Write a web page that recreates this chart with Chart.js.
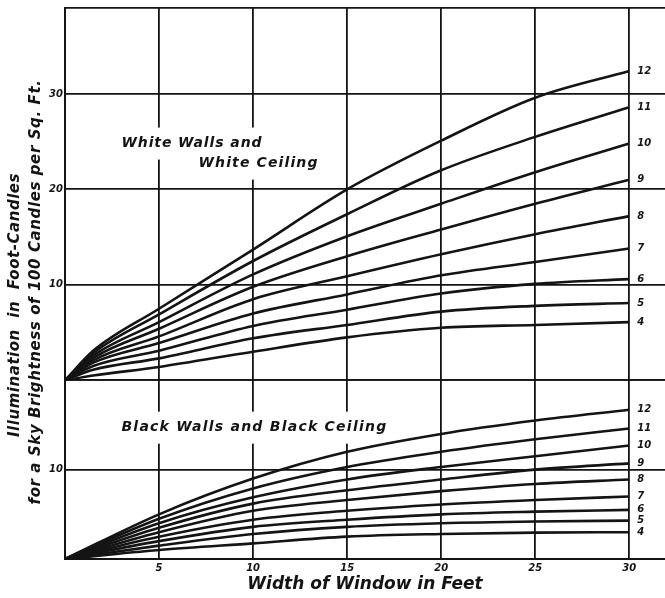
<!DOCTYPE html>
<html>
<head>
<meta charset="utf-8">
<script src="https://cdn.jsdelivr.net/npm/chart.js@4.4.0/dist/chart.umd.min.js"></script>
<style>
  html, body { margin: 0; padding: 0; background: #fff; }
  #grafico { display: block; }
</style>
</head>
<body>
<canvas id="grafico" width="665" height="598"></canvas>
<script>
// Window widths (feet) where the curves were read
const widthWhite = [0, 1.5, 5, 10, 15, 20, 25, 30];
const widthBlack = [0, 5, 10, 15, 20, 25, 30];
const curveLabels = ['12', '11', '10', '9', '8', '7', '6', '5', '4'];

// White walls and white ceiling (foot-candles)
const white12 = [0, 3.1, 7.5, 13.7, 20.0, 25.1, 29.6, 32.4];
const white11 = [0, 2.85, 6.9, 12.5, 17.4, 22.0, 25.5, 28.6];
const white10 = [0, 2.6, 6.1, 11.1, 15.1, 18.5, 21.8, 24.8];
const white9 = [0, 2.35, 5.4, 9.8, 13.0, 15.8, 18.5, 21.0];
const white8 = [0, 2.1, 4.6, 8.5, 10.9, 13.2, 15.3, 17.2];
const white7 = [0, 1.85, 3.9, 7.0, 9.0, 11.0, 12.4, 13.8];
const white6 = [0, 1.5, 3.1, 5.7, 7.4, 9.1, 10.1, 10.6];
const white5 = [0, 1.1, 2.3, 4.4, 5.8, 7.2, 7.8, 8.1];
const white4 = [0, 0.5, 1.4, 3.0, 4.5, 5.5, 5.8, 6.1];

// Black walls and black ceiling
const black12 = [0, 5.0, 9.0, 12.0, 14.0, 15.5, 16.7];
const black11 = [0, 4.5, 7.9, 10.3, 12.0, 13.4, 14.6];
const black10 = [0, 4.0, 6.9, 8.9, 10.3, 11.5, 12.7];
const black9 = [0, 3.5, 6.2, 7.7, 8.9, 10.0, 10.7];
const black8 = [0, 3.0, 5.4, 6.6, 7.6, 8.4, 8.9];
const black7 = [0, 2.5, 4.4, 5.4, 6.1, 6.6, 7.0];
const black6 = [0, 2.0, 3.6, 4.4, 5.0, 5.3, 5.5];
const black5 = [0, 1.5, 2.8, 3.6, 4.0, 4.2, 4.3];
const black4 = [0, 1.0, 1.75, 2.5, 2.8, 2.95, 3.0];

const xTicks = [5, 10, 15, 20, 25, 30];
const yTicksWhite = [10, 20, 30];
const yTicksBlack = [10];

const ink = '#141414';
const family = '"DejaVu Sans", sans-serif';
const boldItalic = size => ({ family: family, size: size, style: 'italic', weight: 'bold' });

function buildDatasets(xs, series, axis) {
    return series.map((values, i) => ({
        label: curveLabels[i],
        data: values.map((v, j) => ({ x: xs[j], y: v })),
        yAxisID: axis,
        borderColor: ink,
        borderWidth: 2.6,
        pointRadius: 0,
        fill: false,
        cubicInterpolationMode: 'monotone'
    }));
}

// draws text stretched to a given width, like the hand lettering
function fittedText(ctx, text, x, y, width) {
    ctx.letterSpacing = '0px';
    const natural = ctx.measureText(text).width;
    ctx.letterSpacing = ((width - natural) / text.length) + 'px';
    ctx.fillText(text, x, y);
    ctx.letterSpacing = '0px';
}

const notes = [
    { text: 'White Walls and', axis: 'yWhite', x: 3.0, y: 24.8, width: 141 },
    { text: 'White Ceiling', axis: 'yWhite', x: 7.1, y: 22.7, width: 120 },
    { text: 'Black Walls and Black Ceiling', axis: 'yBlack', x: 3.0, y: 14.7, width: 266 }
];

const textPlugin = {
    id: 'textos',
    beforeDatasetsDraw(chart) {
        const ctx = chart.ctx;
        const xs = chart.scales.x;
        ctx.save();
        ctx.font = 'italic bold 14px ' + family;
        ctx.textAlign = 'left';
        ctx.textBaseline = 'middle';
        notes.forEach(n => {
            const px = xs.getPixelForValue(n.x);
            const py = chart.scales[n.axis].getPixelForValue(n.y);
            ctx.fillStyle = '#fff';
            ctx.fillRect(px - 6, py - 16, n.width + 12, 32);
            ctx.fillStyle = ink;
            fittedText(ctx, n.text, px, py, n.width);
        });
        ctx.restore();
    },
    afterDatasetsDraw(chart) {
        const ctx = chart.ctx;
        const xEnd = chart.scales.x.getPixelForValue(30) + 8;
        ctx.save();
        ctx.font = 'italic bold 10px ' + family;
        ctx.fillStyle = ink;
        ctx.textAlign = 'left';
        ctx.textBaseline = 'middle';
        chart.data.datasets.forEach((ds, i) => {
            const pts = chart.getDatasetMeta(i).data;
            ctx.fillText(ds.label, xEnd, pts[pts.length - 1].y);
        });
        // y axis title, two rotated lines
        ctx.font = 'italic bold 15px ' + family;
        ctx.textAlign = 'center';
        ctx.translate(15, 305);
        ctx.rotate(-Math.PI / 2);
        fittedText(ctx, 'Illumination  in  Foot-Candles', 0, 0, 264);
        ctx.rotate(Math.PI / 2);
        ctx.translate(21, -13);
        ctx.rotate(-Math.PI / 2);
        fittedText(ctx, 'for a Sky Brightness of 100 Candles per Sq. Ft.', 0, 0, 425);
        ctx.restore();
    }
};

const migrafico = document.getElementById('grafico');

const datos = {
    datasets: buildDatasets(widthWhite, [white12, white11, white10, white9, white8, white7, white6, white5, white4], 'yWhite')
        .concat(buildDatasets(widthBlack, [black12, black11, black10, black9, black8, black7, black6, black5, black4], 'yBlack'))
};

const gridStyle = { color: ink, lineWidth: 1.8, drawTicks: false };
const borderStyle = { color: ink, width: 2 };

// left boxes are stacked in reverse order: the last one goes on top
const config = {
    type: 'line',
    data: datos,
    plugins: [textPlugin],
    options: {
        responsive: false,
        animation: false,
        devicePixelRatio: 1,
        layout: { padding: { top: 6, left: 0, right: 0, bottom: 0 } },
        plugins: {
            legend: { display: false },
            tooltip: { enabled: false }
        },
        scales: {
            x: {
                type: 'linear',
                min: 0,
                max: 31.9,
                afterBuildTicks: s => { s.ticks = s.ticks.filter(t => t.value === 0 || xTicks.includes(t.value)); },
                afterFit: s => { s.height = 39; },
                grid: gridStyle,
                border: borderStyle,
                ticks: {
                    stepSize: 5,
                    padding: 3,
                    color: ink,
                    autoSkip: false,
                    maxRotation: 0,
                    font: boldItalic(10),
                    callback: v => xTicks.includes(v) ? v : ''
                },
                title: {
                    display: true,
                    text: 'Width of Window in Feet',
                    color: ink,
                    font: boldItalic(17),
                    padding: { top: 0, bottom: 3 }
                }
            },
            yBlack: {
                type: 'linear',
                position: 'left',
                stack: 'panels',
                stackWeight: 179,
                min: 0,
                max: 20,
                afterFit: s => { s.width = 65; },
                grid: gridStyle,
                border: borderStyle,
                ticks: {
                    stepSize: 10,
                    padding: 2,
                    color: ink,
                    font: boldItalic(10),
                    callback: v => yTicksBlack.includes(v) ? v : ''
                }
            },
            yWhite: {
                type: 'linear',
                position: 'left',
                stack: 'panels',
                stackWeight: 373,
                min: 0,
                max: 39,
                afterFit: s => { s.width = 65; },
                grid: gridStyle,
                border: borderStyle,
                ticks: {
                    stepSize: 10,
                    padding: 2,
                    color: ink,
                    font: boldItalic(10),
                    callback: v => yTicksWhite.includes(v) ? v : ''
                }
            }
        }
    }
};

const graficoActual = new Chart(migrafico, config);
</script>
</body>
</html>
